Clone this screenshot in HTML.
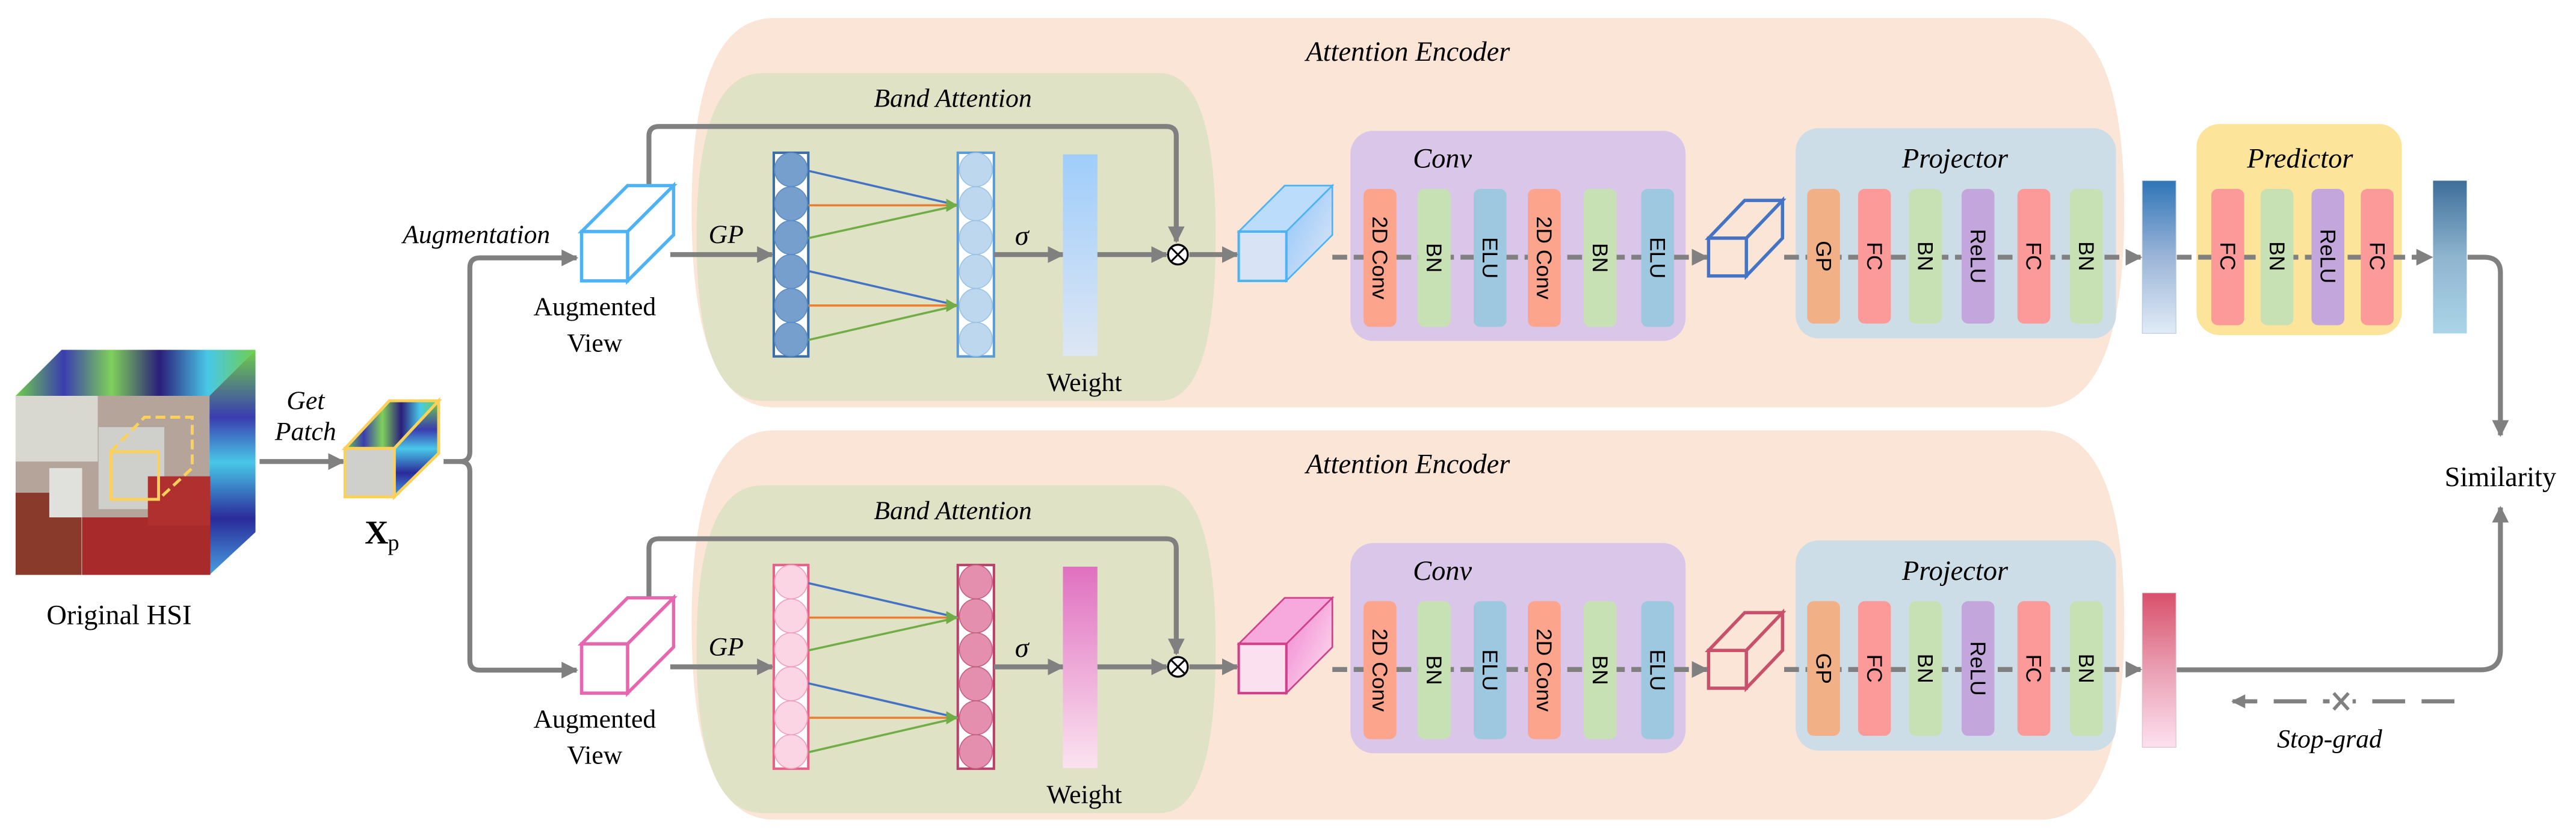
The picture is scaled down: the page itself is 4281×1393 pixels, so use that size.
<!DOCTYPE html>
<html><head><meta charset="utf-8"><style>html,body{margin:0;padding:0;background:#fff}svg{display:block}
svg text{font-family:"Liberation Serif","Times New Roman",Times,"Nimbus Roman","DejaVu Serif",serif}
svg .s text{font-family:"Liberation Sans",Arial,Helvetica,"DejaVu Sans",sans-serif !important;font-style:normal}
</style></head>
<body>
<svg width="4281" height="1393" viewBox="0 0 1568 510.2" preserveAspectRatio="none" xmlns="http://www.w3.org/2000/svg">
<defs>
<marker id="ah" viewBox="0 0 10 10" refX="9" refY="5" markerWidth="3.4" markerHeight="3.4" orient="auto" markerUnits="strokeWidth"><path d="M0,0 L10,5 L0,10 z" fill="#808080"/></marker>
<linearGradient id="wB" x1="0" y1="0" x2="0" y2="1"><stop offset="0" stop-color="#9fcdfb"/><stop offset="1" stop-color="#dde6f4"/></linearGradient>
<linearGradient id="wP" x1="0" y1="0" x2="0" y2="1"><stop offset="0" stop-color="#e070c0"/><stop offset="1" stop-color="#fbe3f0"/></linearGradient>
<linearGradient id="v1" x1="0" y1="0" x2="0" y2="1"><stop offset="0" stop-color="#2f75b8"/><stop offset="0.5" stop-color="#9cb5d8"/><stop offset="1" stop-color="#e0ebf6"/></linearGradient>
<linearGradient id="v2" x1="0" y1="0" x2="0" y2="1"><stop offset="0" stop-color="#3e6e9a"/><stop offset="0.5" stop-color="#8fb5cf"/><stop offset="1" stop-color="#abd4e8"/></linearGradient>
<linearGradient id="v3" x1="0" y1="0" x2="0" y2="1"><stop offset="0" stop-color="#d9506b"/><stop offset="0.5" stop-color="#eaa0b4"/><stop offset="1" stop-color="#fde0ef"/></linearGradient>
<linearGradient id="cB" x1="0" y1="0" x2="1" y2="1"><stop offset="0" stop-color="#8cc4fb"/><stop offset="1" stop-color="#e2e8f6"/></linearGradient>
<linearGradient id="cP" x1="0" y1="0" x2="1" y2="1"><stop offset="0" stop-color="#f27fcf"/><stop offset="1" stop-color="#fde4f2"/></linearGradient>
<linearGradient id="hsiTop" x1="0" y1="0" x2="1" y2="0"><stop offset="0" stop-color="#6fcf4a"/><stop offset="0.2" stop-color="#3a3db0"/><stop offset="0.4" stop-color="#7fd15a"/><stop offset="0.6" stop-color="#2a1e7a"/><stop offset="0.8" stop-color="#48c8e8"/><stop offset="1" stop-color="#6fcf4a"/></linearGradient>
<linearGradient id="hsiSide" x1="0" y1="0" x2="0" y2="1"><stop offset="0" stop-color="#6fcf4a"/><stop offset="0.3" stop-color="#3a3db0"/><stop offset="0.5" stop-color="#48c8e8"/><stop offset="0.75" stop-color="#2a2a9a"/><stop offset="1" stop-color="#48a0e0"/></linearGradient>
</defs>

<polygon points="9.5,241 37.5,213 155.5,213 127.5,241" fill="url(#hsiTop)"/>
<polygon points="127.5,241 155.5,213 155.5,324 127.5,350" fill="url(#hsiSide)"/>
<rect x="9.5" y="241" width="118" height="109" fill="#b5a49a"/>
<rect x="9.5" y="241" width="50" height="40" fill="#d8d8d0"/>
<rect x="60" y="260" width="40" height="50" fill="#cfcfcb"/>
<rect x="9.5" y="300" width="40" height="50" fill="#8a3a2a"/>
<rect x="50" y="315" width="78" height="35" fill="#a82a2a"/>
<rect x="90" y="290" width="38" height="30" fill="#b03030"/>
<rect x="30" y="285" width="20" height="30" fill="#e0e0dc"/>
<rect x="67.5" y="275" width="29" height="29" fill="none" stroke="#fcd15a" stroke-width="1.8"/>
<path d="M67.5,275 L88,254 L117,254 L117,285 L96.5,304" fill="none" stroke="#fcd15a" stroke-width="1.8" stroke-dasharray="6,3"/>
<text x="72.5" y="380" font-size="17" text-anchor="middle">Original HSI</text>
<text x="186" y="249" font-size="16" font-style="italic" text-anchor="middle">Get</text>
<text x="186" y="268" font-size="16" font-style="italic" text-anchor="middle">Patch</text>
<line x1="158" y1="281" x2="209" y2="281" stroke="#808080" stroke-width="3" marker-end="url(#ah)"/>
<polygon points="210,273 237,244 267,244 240,273" fill="url(#hsiTop)" stroke="#fcd15a" stroke-width="1.8"/>
<polygon points="240,273 267,244 267,276 240,302.5" fill="url(#hsiSide)" stroke="#fcd15a" stroke-width="1.8"/>
<rect x="210" y="273" width="30" height="29.5" fill="#cfcfcb" stroke="#fcd15a" stroke-width="1.8"/>
<text x="222" y="331" font-size="20" font-weight="bold">X</text><text x="236" y="335" font-size="14">p</text>
<path d="M270,281 L280,281 Q286,281 286,275 L286,163 Q286,157 292,157 L351,157" fill="none" stroke="#808080" stroke-width="3" marker-end="url(#ah)"/>
<path d="M280,281 Q286,281 286,287 L286,402 Q286,408 292,408 L351,408" fill="none" stroke="#808080" stroke-width="3" marker-end="url(#ah)"/>
<text x="290" y="148" font-size="16" font-style="italic" text-anchor="middle">Augmentation</text>

<path d="M471,11 L1242,11 Q1293,11 1293,128 Q1293,248 1242,248 L471,248 Q421,248 421,128 Q421,11 471,11 Z" fill="#fae5d7"/>
<path d="M471,262 L1242,262 Q1293,262 1293,379 Q1293,499 1242,499 L471,499 Q421,499 421,379 Q421,262 471,262 Z" fill="#fae5d7"/>
<text x="857" y="37" font-size="17" font-style="italic" text-anchor="middle">Attention Encoder</text>
<text x="857" y="288" font-size="17" font-style="italic" text-anchor="middle">Attention Encoder</text>

<g>
<path d="M464,44.5 L706,44.5 Q740,44.5 740,144 Q740,244 706,244 L464,244 Q424,244 424,144 Q424,44.5 464,44.5 Z" fill="#e0e2c6"/>
<text x="580" y="65" font-size="16" font-style="italic" text-anchor="middle">Band Attention</text>
<path d="M395,113 L395,83 Q395,77 401,77 L710,77 Q716,77 716,83 L716,147" fill="none" stroke="#808080" stroke-width="3" marker-end="url(#ah)"/>
<polygon points="354,141 382,113 410,113 382,141" fill="#fff" stroke="#4db3f5" stroke-width="2"/>
<polygon points="382,141 410,113 410,143 382,171" fill="#fff" stroke="#4db3f5" stroke-width="2"/>
<rect x="354" y="141" width="28" height="30" fill="#fff" stroke="#4db3f5" stroke-width="2"/>
<text x="362" y="192" font-size="16" text-anchor="middle">Augmented</text>
<text x="362" y="214" font-size="16" text-anchor="middle">View</text>
<text x="442" y="148" font-size="16" font-style="italic" text-anchor="middle">GP</text>
<line x1="408" y1="155" x2="470" y2="155" stroke="#808080" stroke-width="3" marker-end="url(#ah)"/>
<rect x="471" y="93" width="21" height="124" fill="#fff" stroke="#3a6ea5" stroke-width="1.5"/>
<g fill="#769fcd" stroke="#5b8cc5" stroke-width="0.6">
<ellipse cx="481.5" cy="103.3" rx="10" ry="10.3"/><ellipse cx="481.5" cy="124" rx="10" ry="10.3"/><ellipse cx="481.5" cy="144.6" rx="10" ry="10.3"/><ellipse cx="481.5" cy="165.3" rx="10" ry="10.3"/><ellipse cx="481.5" cy="186" rx="10" ry="10.3"/><ellipse cx="481.5" cy="206.6" rx="10" ry="10.3"/></g>
<rect x="583" y="93" width="22" height="124" fill="#fff" stroke="#5b9bd5" stroke-width="1.5"/>
<g fill="#bdd7ee" stroke="#9cc3e6" stroke-width="0.6">
<ellipse cx="594" cy="103.3" rx="10" ry="10.3"/><ellipse cx="594" cy="124" rx="10" ry="10.3"/><ellipse cx="594" cy="144.6" rx="10" ry="10.3"/><ellipse cx="594" cy="165.3" rx="10" ry="10.3"/><ellipse cx="594" cy="186" rx="10" ry="10.3"/><ellipse cx="594" cy="206.6" rx="10" ry="10.3"/></g>
<g stroke-width="1.3">
<line x1="492" y1="104" x2="583" y2="125" stroke="#4472c4"/><line x1="492" y1="125" x2="583" y2="125" stroke="#ed7d31"/><line x1="492" y1="145" x2="583" y2="125" stroke="#70ad47"/>
<line x1="492" y1="165" x2="583" y2="186" stroke="#4472c4"/><line x1="492" y1="186" x2="583" y2="186" stroke="#ed7d31"/><line x1="492" y1="207" x2="583" y2="186" stroke="#70ad47"/></g>
<polygon points="583,125 576,121 576,129" fill="#70ad47"/><polygon points="583,186 576,182 576,190" fill="#70ad47"/>
<text x="622" y="149" font-size="17" font-style="italic" text-anchor="middle">σ</text>
<line x1="605" y1="155" x2="647" y2="155" stroke="#808080" stroke-width="3" marker-end="url(#ah)"/>
<rect x="647" y="94" width="21" height="122.6" fill="url(#wB)"/>
<text x="660" y="238" font-size="16" text-anchor="middle">Weight</text>
<line x1="668" y1="155" x2="710" y2="155" stroke="#808080" stroke-width="3" marker-end="url(#ah)"/>
<circle cx="717" cy="155" r="6" fill="#fff" stroke="#000" stroke-width="1.2"/>
<path d="M712.8,150.8 L721.2,159.2 M721.2,150.8 L712.8,159.2" stroke="#000" stroke-width="1.1"/>
<line x1="724" y1="155" x2="753" y2="155" stroke="#808080" stroke-width="3" marker-end="url(#ah)"/>
<polygon points="754,141 782,113 811,113 783,141" fill="#bcdcfb" stroke="#4db3f5" stroke-width="1"/>
<polygon points="783,141 811,113 811,143 783,171" fill="url(#cB)" stroke="#4db3f5" stroke-width="1"/>
<rect x="754" y="141" width="29" height="30" fill="#d8e4f6" stroke="#4db3f5" stroke-width="1.5"/>
</g>

<g>
<path d="M464,295.5 L706,295.5 Q740,295.5 740,395 Q740,495 706,495 L464,495 Q424,495 424,395 Q424,295.5 464,295.5 Z" fill="#e0e2c6"/>
<text x="580" y="316" font-size="16" font-style="italic" text-anchor="middle">Band Attention</text>
<path d="M395,364 L395,334 Q395,328 401,328 L710,328 Q716,328 716,334 L716,398" fill="none" stroke="#808080" stroke-width="3" marker-end="url(#ah)"/>
<polygon points="354,392 382,364 410,364 382,392" fill="#fff" stroke="#e667b0" stroke-width="2"/>
<polygon points="382,392 410,364 410,394 382,422" fill="#fff" stroke="#e667b0" stroke-width="2"/>
<rect x="354" y="392" width="28" height="30" fill="#fff" stroke="#e667b0" stroke-width="2"/>
<text x="362" y="443" font-size="16" text-anchor="middle">Augmented</text>
<text x="362" y="465" font-size="16" text-anchor="middle">View</text>
<text x="442" y="399" font-size="16" font-style="italic" text-anchor="middle">GP</text>
<line x1="408" y1="406" x2="470" y2="406" stroke="#808080" stroke-width="3" marker-end="url(#ah)"/>
<rect x="471" y="344" width="21" height="124" fill="#fff" stroke="#e8608a" stroke-width="1.5"/>
<g fill="#fbd5e3" stroke="#f0a0bc" stroke-width="0.6">
<ellipse cx="481.5" cy="354.3" rx="10" ry="10.3"/><ellipse cx="481.5" cy="375" rx="10" ry="10.3"/><ellipse cx="481.5" cy="395.6" rx="10" ry="10.3"/><ellipse cx="481.5" cy="416.3" rx="10" ry="10.3"/><ellipse cx="481.5" cy="437" rx="10" ry="10.3"/><ellipse cx="481.5" cy="457.6" rx="10" ry="10.3"/></g>
<rect x="583" y="344" width="22" height="124" fill="#fff" stroke="#b8406a" stroke-width="1.5"/>
<g fill="#e58fae" stroke="#c8607f" stroke-width="0.6">
<ellipse cx="594" cy="354.3" rx="10" ry="10.3"/><ellipse cx="594" cy="375" rx="10" ry="10.3"/><ellipse cx="594" cy="395.6" rx="10" ry="10.3"/><ellipse cx="594" cy="416.3" rx="10" ry="10.3"/><ellipse cx="594" cy="437" rx="10" ry="10.3"/><ellipse cx="594" cy="457.6" rx="10" ry="10.3"/></g>
<g stroke-width="1.3">
<line x1="492" y1="355" x2="583" y2="376" stroke="#4472c4"/><line x1="492" y1="376" x2="583" y2="376" stroke="#ed7d31"/><line x1="492" y1="396" x2="583" y2="376" stroke="#70ad47"/>
<line x1="492" y1="416" x2="583" y2="437" stroke="#4472c4"/><line x1="492" y1="437" x2="583" y2="437" stroke="#ed7d31"/><line x1="492" y1="458" x2="583" y2="437" stroke="#70ad47"/></g>
<polygon points="583,376 576,372 576,380" fill="#70ad47"/><polygon points="583,437 576,433 576,441" fill="#70ad47"/>
<text x="622" y="400" font-size="17" font-style="italic" text-anchor="middle">σ</text>
<line x1="605" y1="406" x2="647" y2="406" stroke="#808080" stroke-width="3" marker-end="url(#ah)"/>
<rect x="647" y="345" width="21" height="122.6" fill="url(#wP)"/>
<text x="660" y="489" font-size="16" text-anchor="middle">Weight</text>
<line x1="668" y1="406" x2="710" y2="406" stroke="#808080" stroke-width="3" marker-end="url(#ah)"/>
<circle cx="717" cy="406" r="6" fill="#fff" stroke="#000" stroke-width="1.2"/>
<path d="M712.8,401.8 L721.2,410.2 M721.2,401.8 L712.8,410.2" stroke="#000" stroke-width="1.1"/>
<line x1="724" y1="406" x2="753" y2="406" stroke="#808080" stroke-width="3" marker-end="url(#ah)"/>
<polygon points="754,392 782,364 811,364 783,392" fill="#f7a8dc" stroke="#d0408a" stroke-width="1"/>
<polygon points="783,392 811,364 811,394 783,422" fill="url(#cP)" stroke="#d0408a" stroke-width="1"/>
<rect x="754" y="392" width="29" height="30" fill="#fbe0f0" stroke="#d0408a" stroke-width="1.5"/>
</g>

<g>
<rect x="822" y="79.6" width="204" height="128" rx="14" fill="#d9c6e9"/>
<text x="878" y="102" font-size="17" font-style="italic" text-anchor="middle">Conv</text>
<line x1="811" y1="156.6" x2="1039" y2="156.6" stroke="#808080" stroke-width="3" stroke-dasharray="9,4" marker-end="url(#ah)"/>
<rect x="830" y="115" width="20" height="84" rx="4" fill="#fca48c"/>
<rect x="863" y="115" width="20" height="84" rx="4" fill="#c8e1b4"/>
<rect x="897" y="115" width="20" height="84" rx="4" fill="#9dc8e0"/>
<rect x="930" y="115" width="20" height="84" rx="4" fill="#fca48c"/>
<rect x="964" y="115" width="20" height="84" rx="4" fill="#c8e1b4"/>
<rect x="999" y="115" width="20" height="84" rx="4" fill="#9dc8e0"/>
<g class="s" font-size="13" text-anchor="middle">
<text transform="translate(835.5,157) rotate(90)">2D Conv</text>
<text transform="translate(868.5,157) rotate(90)">BN</text>
<text transform="translate(902.5,157) rotate(90)">ELU</text>
<text transform="translate(935.5,157) rotate(90)">2D Conv</text>
<text transform="translate(969.5,157) rotate(90)">BN</text>
<text transform="translate(1004.5,157) rotate(90)">ELU</text>
</g>
<polygon points="1040,145 1062,122 1085,122 1063,145" fill="#fae5d7" stroke="#4472c4" stroke-width="2"/>
<polygon points="1063,145 1085,122 1085,145 1063,168" fill="#fae5d7" stroke="#4472c4" stroke-width="2"/>
<rect x="1040" y="145" width="23" height="23" fill="#fae5d7" stroke="#4472c4" stroke-width="2"/>
<rect x="1093" y="78" width="195" height="128" rx="14" fill="#cddde8"/>
<text x="1190" y="102" font-size="17" font-style="italic" text-anchor="middle">Projector</text>
<line x1="1086" y1="156.6" x2="1303" y2="156.6" stroke="#808080" stroke-width="3" stroke-dasharray="9,4" marker-end="url(#ah)"/>
<rect x="1100" y="115" width="20" height="82" rx="4" fill="#f2b086"/>
<rect x="1131" y="115" width="20" height="82" rx="4" fill="#fc9a9a"/>
<rect x="1162" y="115" width="20" height="82" rx="4" fill="#c8e1b4"/>
<rect x="1194" y="115" width="20" height="82" rx="4" fill="#c3a6dc"/>
<rect x="1228" y="115" width="20" height="82" rx="4" fill="#fc9a9a"/>
<rect x="1260" y="115" width="20" height="82" rx="4" fill="#c8e1b4"/>
<g class="s" font-size="13" text-anchor="middle">
<text transform="translate(1105.5,156) rotate(90)">GP</text>
<text transform="translate(1136.5,156) rotate(90)">FC</text>
<text transform="translate(1167.5,156) rotate(90)">BN</text>
<text transform="translate(1199.5,156) rotate(90)">ReLU</text>
<text transform="translate(1233.5,156) rotate(90)">FC</text>
<text transform="translate(1265.5,156) rotate(90)">BN</text>
</g>
</g>
<g transform="translate(0,251)">
<rect x="822" y="79.6" width="204" height="128" rx="14" fill="#d9c6e9"/>
<text x="878" y="102" font-size="17" font-style="italic" text-anchor="middle">Conv</text>
<line x1="811" y1="156.6" x2="1039" y2="156.6" stroke="#808080" stroke-width="3" stroke-dasharray="9,4" marker-end="url(#ah)"/>
<rect x="830" y="115" width="20" height="84" rx="4" fill="#fca48c"/>
<rect x="863" y="115" width="20" height="84" rx="4" fill="#c8e1b4"/>
<rect x="897" y="115" width="20" height="84" rx="4" fill="#9dc8e0"/>
<rect x="930" y="115" width="20" height="84" rx="4" fill="#fca48c"/>
<rect x="964" y="115" width="20" height="84" rx="4" fill="#c8e1b4"/>
<rect x="999" y="115" width="20" height="84" rx="4" fill="#9dc8e0"/>
<g class="s" font-size="13" text-anchor="middle">
<text transform="translate(835.5,157) rotate(90)">2D Conv</text>
<text transform="translate(868.5,157) rotate(90)">BN</text>
<text transform="translate(902.5,157) rotate(90)">ELU</text>
<text transform="translate(935.5,157) rotate(90)">2D Conv</text>
<text transform="translate(969.5,157) rotate(90)">BN</text>
<text transform="translate(1004.5,157) rotate(90)">ELU</text>
</g>
<polygon points="1040,145 1062,122 1085,122 1063,145" fill="#fae5d7" stroke="#c8506a" stroke-width="2"/>
<polygon points="1063,145 1085,122 1085,145 1063,168" fill="#fae5d7" stroke="#c8506a" stroke-width="2"/>
<rect x="1040" y="145" width="23" height="23" fill="#fae5d7" stroke="#c8506a" stroke-width="2"/>
<rect x="1093" y="78" width="195" height="128" rx="14" fill="#cddde8"/>
<text x="1190" y="102" font-size="17" font-style="italic" text-anchor="middle">Projector</text>
<line x1="1086" y1="156.6" x2="1303" y2="156.6" stroke="#808080" stroke-width="3" stroke-dasharray="9,4" marker-end="url(#ah)"/>
<rect x="1100" y="115" width="20" height="82" rx="4" fill="#f2b086"/>
<rect x="1131" y="115" width="20" height="82" rx="4" fill="#fc9a9a"/>
<rect x="1162" y="115" width="20" height="82" rx="4" fill="#c8e1b4"/>
<rect x="1194" y="115" width="20" height="82" rx="4" fill="#c3a6dc"/>
<rect x="1228" y="115" width="20" height="82" rx="4" fill="#fc9a9a"/>
<rect x="1260" y="115" width="20" height="82" rx="4" fill="#c8e1b4"/>
<g class="s" font-size="13" text-anchor="middle">
<text transform="translate(1105.5,156) rotate(90)">GP</text>
<text transform="translate(1136.5,156) rotate(90)">FC</text>
<text transform="translate(1167.5,156) rotate(90)">BN</text>
<text transform="translate(1199.5,156) rotate(90)">ReLU</text>
<text transform="translate(1233.5,156) rotate(90)">FC</text>
<text transform="translate(1265.5,156) rotate(90)">BN</text>
</g>
</g>

<rect x="1337" y="75.5" width="125" height="128.5" rx="14" fill="#fde49b"/>
<text x="1400" y="102" font-size="17" font-style="italic" text-anchor="middle">Predictor</text>
<line x1="1325" y1="156.6" x2="1480" y2="156.6" stroke="#808080" stroke-width="3" stroke-dasharray="9,4" marker-end="url(#ah)"/>
<rect x="1346" y="115" width="20" height="83" rx="4" fill="#fc9a9a"/>
<rect x="1376" y="115" width="20" height="83" rx="4" fill="#c8e1b4"/>
<rect x="1407" y="115" width="20" height="83" rx="4" fill="#c3a6dc"/>
<rect x="1437" y="115" width="20" height="83" rx="4" fill="#fc9a9a"/>
<g class="s" font-size="13" text-anchor="middle">
<text transform="translate(1351.5,156) rotate(90)">FC</text>
<text transform="translate(1381.5,156) rotate(90)">BN</text>
<text transform="translate(1412.5,156) rotate(90)">ReLU</text>
<text transform="translate(1442.5,156) rotate(90)">FC</text>
</g>
<rect x="1304" y="110" width="20.5" height="93" fill="url(#v1)" stroke="#b8c8d8" stroke-width="0.4"/>
<rect x="1481" y="110" width="20.5" height="93" fill="url(#v2)"/>
<rect x="1304" y="361" width="20.5" height="94" fill="url(#v3)" stroke="#d8c0c8" stroke-width="0.4"/>

<path d="M1502,156.6 L1512,156.6 Q1522,156.6 1522,166 L1522,265" fill="none" stroke="#808080" stroke-width="3" marker-end="url(#ah)"/>
<text x="1522" y="296" font-size="17" text-anchor="middle">Similarity</text>
<path d="M1325,407.8 L1510,407.8 Q1522,407.8 1522,396 L1522,309" fill="none" stroke="#808080" stroke-width="3" marker-end="url(#ah)"/>
<line x1="1494" y1="427" x2="1359" y2="427" stroke="#808080" stroke-width="2.5" stroke-dasharray="20,10" marker-end="url(#ah)"/>
<rect x="1418" y="421" width="14" height="12" fill="#fff"/>
<path d="M1420.5,422 L1429.5,432 M1429.5,422 L1420.5,432" stroke="#808080" stroke-width="2"/>
<text x="1418" y="455" font-size="16" font-style="italic" text-anchor="middle">Stop-grad</text>
</svg>
</body></html>
